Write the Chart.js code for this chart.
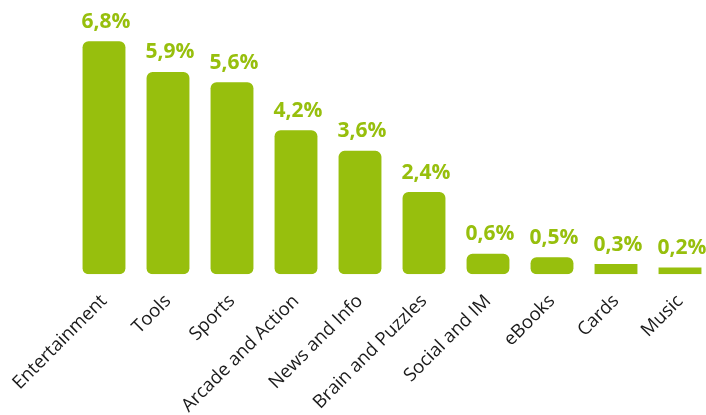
<!DOCTYPE html>
<html>
<head>
<meta charset="utf-8">
<script src="https://cdn.jsdelivr.net/npm/chart.js@4.4.0/dist/chart.umd.min.js"></script>
<style>
  html, body { margin: 0; padding: 0; background: #fff; overflow: hidden; }
  #wrap { width: 712px; height: 425px; }
</style>
</head>
<body>
<div id="wrap"><canvas id="appChart" width="712" height="425"></canvas></div>
<script>
const categories = ['Entertainment', 'Tools', 'Sports', 'Arcade and Action', 'News and Info',
    'Brain and Puzzles', 'Social and IM', 'eBooks', 'Cards', 'Music'];
const shares = [6.8, 5.9, 5.6, 4.2, 3.6, 2.4, 0.6, 0.5, 0.3, 0.2];

const green = '#97bf0d';

// value labels above each bar, with a decimal comma
const valueLabels = {
    id: 'valueLabels',
    afterDatasetsDraw(chart) {
        const ctx = chart.ctx;
        const meta = chart.getDatasetMeta(0);
        ctx.save();
        ctx.fillStyle = green;
        ctx.font = 'bold 21px "Open Sans", sans-serif';
        ctx.textAlign = 'center';
        ctx.textBaseline = 'bottom';
        meta.data.forEach((bar, i) => {
            const txt = shares[i].toFixed(1).replace('.', ',') + '%';
            ctx.fillText(txt, bar.x + 2, bar.y - 9);
        });
        ctx.restore();
    }
};

const ctx = document.getElementById('appChart').getContext('2d');
const appChart = new Chart(ctx, {
    type: 'bar',
    data: {
        labels: categories,
        datasets: [{
            data: shares,
            backgroundColor: green,
            // the two thinnest bars are flat in the original
            borderRadius: (c) => (shares[c.dataIndex] < 0.4 ? 0 : 6),
            borderSkipped: false,
            barPercentage: 0.67,
            categoryPercentage: 1
        }]
    },
    options: {
        responsive: false,
        animation: false,
        layout: { padding: { left: 72, right: 0, top: 0, bottom: 0 } },
        plugins: {
            legend: { display: false },
            tooltip: { enabled: false }
        },
        scales: {
            x: {
                grid: { display: false },
                border: { display: false },
                ticks: {
                    color: '#1a1a1a',
                    font: { family: '"Open Sans", sans-serif', size: 18.5 },
                    minRotation: 45,
                    maxRotation: 45,
                    padding: 8,
                    autoSkip: false
                }
            },
            y: {
                display: false,
                min: 0,
                max: 8
            }
        }
    },
    plugins: [valueLabels]
});
</script>
</body>
</html>
